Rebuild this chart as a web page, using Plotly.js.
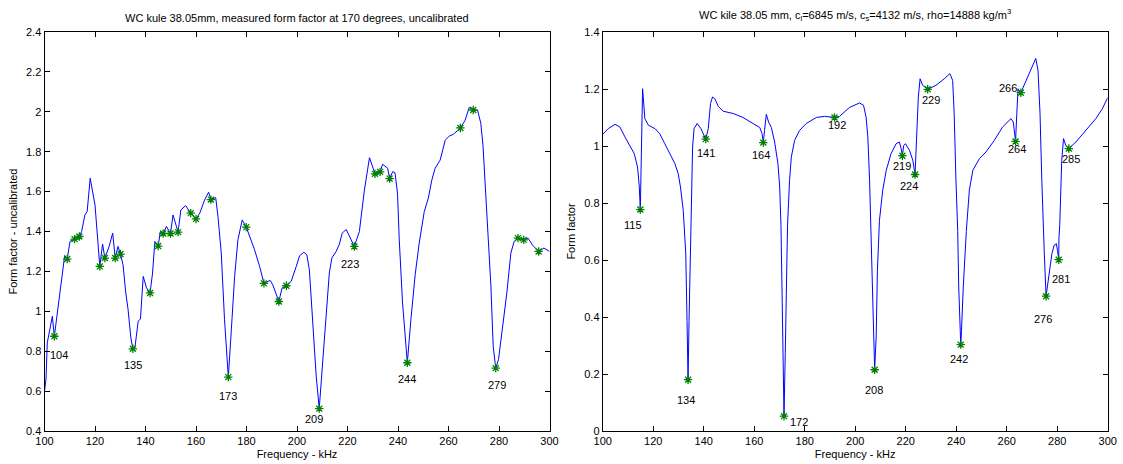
<!DOCTYPE html>
<html>
<head>
<meta charset="utf-8">
<script src="https://cdn.plot.ly/plotly-3.0.1.min.js"></script>
<style>html,body{margin:0;padding:0;background:#fff;}#chart{width:1123px;height:464px;}</style>
</head>
<body>
<div id="chart"></div>
<script>
// ---- Left panel: measured form factor (uncalibrated) ----
const measFreq = [
  100, 100.6, 101.1, 103.1, 103.9, 104.8, 106.1, 108, 109, 110.1,
  111.9, 113.8, 114.7, 116, 116.9, 118.1, 120, 121.1, 121.9, 123,
  123.9, 125.6, 127, 128, 129.1, 130.1, 131.1, 132.2, 133.1, 134.2,
  135, 135.8, 137.1, 138, 139.1, 140.4, 141.8, 142.8, 143.7, 145,
  145.9, 147, 148.3, 149.9, 150.9, 152.9, 154, 155.9, 157.9, 160,
  161.5, 163.4, 165, 165.9, 167.8, 168.7, 170, 171.3, 172.8, 174,
  175.3, 176.6, 178.3, 179.9, 181.9, 183.2, 185.2, 186.9, 189.4, 190.4,
  192.8, 194.1, 195.8, 197.7, 199.7, 201, 202.7, 203.9, 204.9, 206.2,
  207.6, 208.8, 209.8, 211.3, 212.8, 213.8, 215.5, 216.8, 217.9, 219.5,
  221, 222.7, 224.7, 226.7, 228.7, 230.9, 232.9, 233.9, 235.9, 236.7,
  237.9, 238.8, 239.8, 240.5, 241.8, 243.7, 245.1, 246.8, 248.4, 250.4,
  252, 253.4, 254.7, 256.7, 258.7, 260.3, 261.9, 262.9, 264.7, 266.6,
  268.2, 269.8, 271.5, 272.8, 273.7, 274.8, 275.7, 276.8, 277.7, 278.7,
  279.8, 281.3, 283.1, 284.7, 286, 287.5, 289.8, 291.5, 293.2, 295.7,
  297.8, 300
];
const measValue = [
  0.60, 0.66, 0.842, 0.975, 0.875, 0.958, 1.092, 1.28, 1.262, 1.35,
  1.362, 1.375, 1.40, 1.483, 1.50, 1.667, 1.533, 1.358, 1.225, 1.337,
  1.267, 1.325, 1.392, 1.267, 1.325, 1.287, 1.233, 1.092, 1.008, 0.867,
  0.812, 0.817, 0.95, 0.962, 1.175, 1.117, 1.092, 1.192, 1.35, 1.327,
  1.40, 1.39, 1.425, 1.39, 1.483, 1.397, 1.508, 1.53, 1.492, 1.463,
  1.492, 1.558, 1.597, 1.56, 1.57, 1.475, 1.292, 0.958, 0.67, 0.908,
  1.175, 1.358, 1.458, 1.422, 1.358, 1.308, 1.225, 1.14, 1.155, 1.133,
  1.049, 1.117, 1.128, 1.15, 1.225, 1.278, 1.296, 1.283, 1.208, 0.958,
  0.675, 0.512, 0.675, 0.958, 1.192, 1.267, 1.30, 1.337, 1.392, 1.41,
  1.367, 1.325, 1.40, 1.608, 1.77, 1.689, 1.699, 1.737, 1.717, 1.665,
  1.70, 1.695, 1.592, 1.358, 1.042, 0.742, 0.958, 1.183, 1.342, 1.50,
  1.567, 1.658, 1.717, 1.758, 1.858, 1.878, 1.887, 1.90, 1.919, 1.958,
  2.022, 2.009, 2.009, 1.942, 1.825, 1.575, 1.358, 1.125, 0.825, 0.715,
  0.758, 0.908, 1.092, 1.292, 1.35, 1.367, 1.358, 1.367, 1.333, 1.30,
  1.317, 1.30
];
const measMarkFreq = [103.9, 109, 111.9, 113.8, 121.9, 123.9, 128, 130.1, 135, 141.8,
  145, 147, 149.9, 152.9, 157.9, 160, 165.9, 172.8, 179.9, 186.9,
  192.8, 195.8, 208.8, 222.7, 230.9, 232.9, 236.7, 243.7, 264.7, 269.8,
  278.7, 287.5, 289.8, 295.7];
const measMarkValue = [0.875, 1.262, 1.362, 1.375, 1.225, 1.267, 1.267, 1.287, 0.812, 1.092,
  1.327, 1.39, 1.39, 1.397, 1.492, 1.463, 1.56, 0.67, 1.422, 1.14,
  1.049, 1.128, 0.512, 1.325, 1.689, 1.699, 1.665, 0.742, 1.919, 2.009,
  0.715, 1.367, 1.358, 1.30];
const measLabelText = ['104', '135', '173', '209', '223', '244', '279'];
const measLabelFreq = [105.8, 135.1, 172.7, 206.9, 221.1, 243.4, 279.2];
const measLabelValue = [0.779, 0.73, 0.575, 0.459, 1.239, 0.659, 0.633];

// ---- Right panel: calculated form factor ----
const calcFreq = [
  100, 102.2, 104.9, 106.8, 108.8, 110.8, 112.5, 113.8, 114.5, 114.9,
  115.4, 115.8, 116.7, 118.1, 120.7, 122.6, 124.6, 126.6, 128.6, 129.9,
  130.8, 131.9, 132.5, 132.9, 133.4, 133.8, 134.2, 134.8, 135.2, 135.6,
  136.2, 137.4, 138.9, 140.4, 140.8, 141.8, 142.7, 143.5, 144.4, 145.8,
  147.7, 151.7, 155.6, 159.5, 162.2, 163.1, 163.6, 164.1, 164.8, 165.7,
  166.8, 168.1, 169.4, 170.1, 170.6, 171.0, 171.4, 171.8, 172.3, 172.7,
  173.2, 174.0, 174.7, 176.0, 178.0, 180.6, 184.6, 187.9, 191.8, 193.8,
  197.7, 201.7, 203.3, 204.3, 205.0, 205.7, 206.2, 206.7, 207.2, 207.7,
  208.3, 208.8, 209.6, 210.9, 212.3, 214.2, 216.2, 217.5, 218.2, 218.7,
  219.2, 219.9, 221.5, 222.8, 223.7, 224.3, 225.0, 225.7, 226.7, 228.7,
  232.0, 235.3, 237.5, 238.6, 239.2, 239.9, 240.6, 241.0, 241.5, 241.8,
  242.1, 242.8, 244.0, 245.2, 246.6, 249.2, 251.8, 255.1, 258.4, 261.7,
  262.6, 263.2, 263.5, 264.0, 264.5, 265.6, 267.6, 270.0, 271.5, 272.4,
  273.2, 273.9, 274.4, 274.9, 275.6, 276.8, 277.9, 278.8, 279.7, 280.1,
  280.6, 280.7, 281.0, 281.8, 282.5, 283.4, 284.6, 287.4, 291.3, 295.3,
  297.9, 300
];
const calcValue = [
  1.041, 1.061, 1.076, 1.067, 1.032, 1.002, 0.973, 0.926, 0.856, 0.777,
  0.996, 1.201, 1.096, 1.073, 1.061, 1.043, 1.008, 0.973, 0.938, 0.903,
  0.856, 0.774, 0.68, 0.622, 0.388, 0.18, 0.388, 0.622, 0.80, 0.996,
  1.061, 1.079, 1.061, 1.032, 1.024, 1.061, 1.149, 1.172, 1.166, 1.139,
  1.122, 1.114, 1.10, 1.079, 1.065, 1.044, 1.012, 1.055, 1.111, 1.084,
  1.065, 1.014, 0.938, 0.856, 0.72, 0.505, 0.272, 0.052, 0.272, 0.505,
  0.72, 0.88, 0.961, 1.02, 1.055, 1.079, 1.10, 1.104, 1.10, 1.104,
  1.135, 1.151, 1.143, 1.102, 1.032, 0.88, 0.70, 0.505, 0.33, 0.215,
  0.33, 0.564, 0.739, 0.845, 0.915, 0.973, 1.008, 1.014, 0.991, 0.966,
  1.002, 1.008, 0.985, 0.95, 0.90, 1.055, 1.172, 1.236, 1.213, 1.199,
  1.213, 1.236, 1.254, 1.23, 1.114, 0.88, 0.70, 0.505, 0.353, 0.303,
  0.353, 0.505, 0.70, 0.845, 0.915, 0.956, 0.979, 1.02, 1.067, 1.096,
  1.084, 1.044, 1.016, 1.114, 1.201, 1.187, 1.23, 1.277, 1.307, 1.266,
  1.114, 0.88, 0.70, 0.622, 0.473, 0.552, 0.622, 0.652, 0.657, 0.634,
  0.601, 0.681, 0.72, 0.95, 1.026, 1.002, 0.991, 1.014, 1.055, 1.096,
  1.131, 1.17
];
const calcMarkFreq = [114.9, 133.8, 140.8, 163.6, 171.8, 191.8, 207.7, 218.7, 223.7, 228.7,
  241.8, 263.5, 265.6, 275.6, 280.6, 284.6];
const calcMarkValue = [0.777, 0.18, 1.024, 1.012, 0.052, 1.10, 0.215, 0.966, 0.90, 1.199,
  0.303, 1.016, 1.187, 0.473, 0.601, 0.991];
const calcLabelText = ['115', '134', '141', '164', '172', '192', '208', '219', '224', '229',
  '242', '264', '266', '276', '281', '285'];
const calcLabelFreq = [111.9, 132.9, 141.1, 162.5, 177.7, 192.7, 207.4, 218.6, 221.2, 230,
  241.3, 263.9, 260.7, 274.4, 281.7, 285.6];
const calcLabelValue = [0.722, 0.108, 0.977, 0.97, 0.032, 1.075, 0.145, 0.929, 0.86, 1.16,
  0.252, 0.991, 1.205, 0.394, 0.532, 0.956];

// ---- Tick labels ----
const xTickVals = [100, 120, 140, 160, 180, 200, 220, 240, 260, 280, 300];
const yLeftTickVals = [0.4, 0.6, 0.8, 1, 1.2, 1.4, 1.6, 1.8, 2, 2.2, 2.4];
const yLeftTickText = ['0.4', '0.6', '0.8', '1', '1.2', '1.4', '1.6', '1.8', '2', '2.2', '2.4'];
const yRightTickVals = [0, 0.2, 0.4, 0.6, 0.8, 1, 1.2, 1.4];
const yRightTickText = ['0', '0.2', '0.4', '0.6', '0.8', '1', '1.2', '1.4'];

const FONT = 'Liberation Sans, Arial, Helvetica, sans-serif';
const lineStyle = {color: 'rgb(0,0,255)', width: 1};
const markStyle = {symbol: 'asterisk-open', size: 7, color: 'rgb(0,128,0)', line: {color: 'rgb(0,120,0)', width: 1.3}};

const traces = [
  {x: measFreq, y: measValue, type: 'scatter', mode: 'lines', line: lineStyle, xaxis: 'x', yaxis: 'y', hoverinfo: 'skip'},
  {x: measMarkFreq, y: measMarkValue, type: 'scatter', mode: 'markers', marker: markStyle, xaxis: 'x', yaxis: 'y'},
  {x: calcFreq, y: calcValue, type: 'scatter', mode: 'lines', line: lineStyle, xaxis: 'x2', yaxis: 'y2', hoverinfo: 'skip'},
  {x: calcMarkFreq, y: calcMarkValue, type: 'scatter', mode: 'markers', marker: markStyle, xaxis: 'x2', yaxis: 'y2'}
];

const annotations = [];
measLabelText.forEach((t, i) => annotations.push({
  x: measLabelFreq[i], y: measLabelValue[i], xref: 'x', yref: 'y', text: t, showarrow: false,
  font: {family: FONT, size: 11, color: '#000'}
}));
calcLabelText.forEach((t, i) => annotations.push({
  x: calcLabelFreq[i], y: calcLabelValue[i], xref: 'x2', yref: 'y2', text: t, showarrow: false,
  font: {family: FONT, size: 11, color: '#000'}
}));
annotations.push({
  xref: 'x domain', x: 0.5, yref: 'paper', y: 1, yanchor: 'bottom', yshift: 6, showarrow: false,
  text: 'WC kule 38.05mm, measured form factor at 170 degrees, uncalibrated',
  font: {family: FONT, size: 11, color: '#000'}
});
annotations.push({
  xref: 'x2 domain', x: 0.5, yref: 'paper', y: 1, yanchor: 'bottom', yshift: 7, showarrow: false,
  text: 'WC kile 38.05 mm, c<sub>l</sub>=6845 m/s, c<sub>s</sub>=4132 m/s, rho=14888 kg/m<sup>3</sup>',
  font: {family: FONT, size: 11, color: '#000'}
});

const axisBase = {
  showline: true, linecolor: '#000', linewidth: 1, mirror: 'ticks',
  ticks: 'inside', ticklen: 5, tickwidth: 1, tickcolor: '#000',
  showgrid: false, zeroline: false,
  tickfont: {family: FONT, size: 11, color: '#000'}
};

const layout = {
  width: 1123, height: 464,
  margin: {l: 0, r: 0, t: 32, b: 33},
  paper_bgcolor: '#fff', plot_bgcolor: '#fff',
  showlegend: false,
  font: {family: FONT, size: 11, color: '#000'},
  xaxis: Object.assign({}, axisBase, {
    domain: [44.5 / 1123, 549.5 / 1123], range: [100, 300], tickvals: xTickVals, anchor: 'y',
    title: {text: 'Frequency - kHz', font: {family: FONT, size: 11, color: '#000'}, standoff: 4}
  }),
  yaxis: Object.assign({}, axisBase, {
    range: [0.4, 2.4], tickvals: yLeftTickVals, ticktext: yLeftTickText, anchor: 'x',
    title: {text: 'Form factor - uncalibrated', font: {family: FONT, size: 11, color: '#000'}, standoff: 6}
  }),
  xaxis2: Object.assign({}, axisBase, {
    domain: [602.7 / 1123, 1107.7 / 1123], range: [100, 300], tickvals: xTickVals, anchor: 'y2',
    title: {text: 'Frequency - kHz', font: {family: FONT, size: 11, color: '#000'}, standoff: 4}
  }),
  yaxis2: Object.assign({}, axisBase, {
    range: [0, 1.4], tickvals: yRightTickVals, ticktext: yRightTickText, anchor: 'x2',
    title: {text: 'Form factor', font: {family: FONT, size: 11, color: '#000'}, standoff: 6}
  }),
  annotations: annotations
};

Plotly.newPlot('chart', traces, layout, {staticPlot: true, displayModeBar: false});
</script>
</body>
</html>
